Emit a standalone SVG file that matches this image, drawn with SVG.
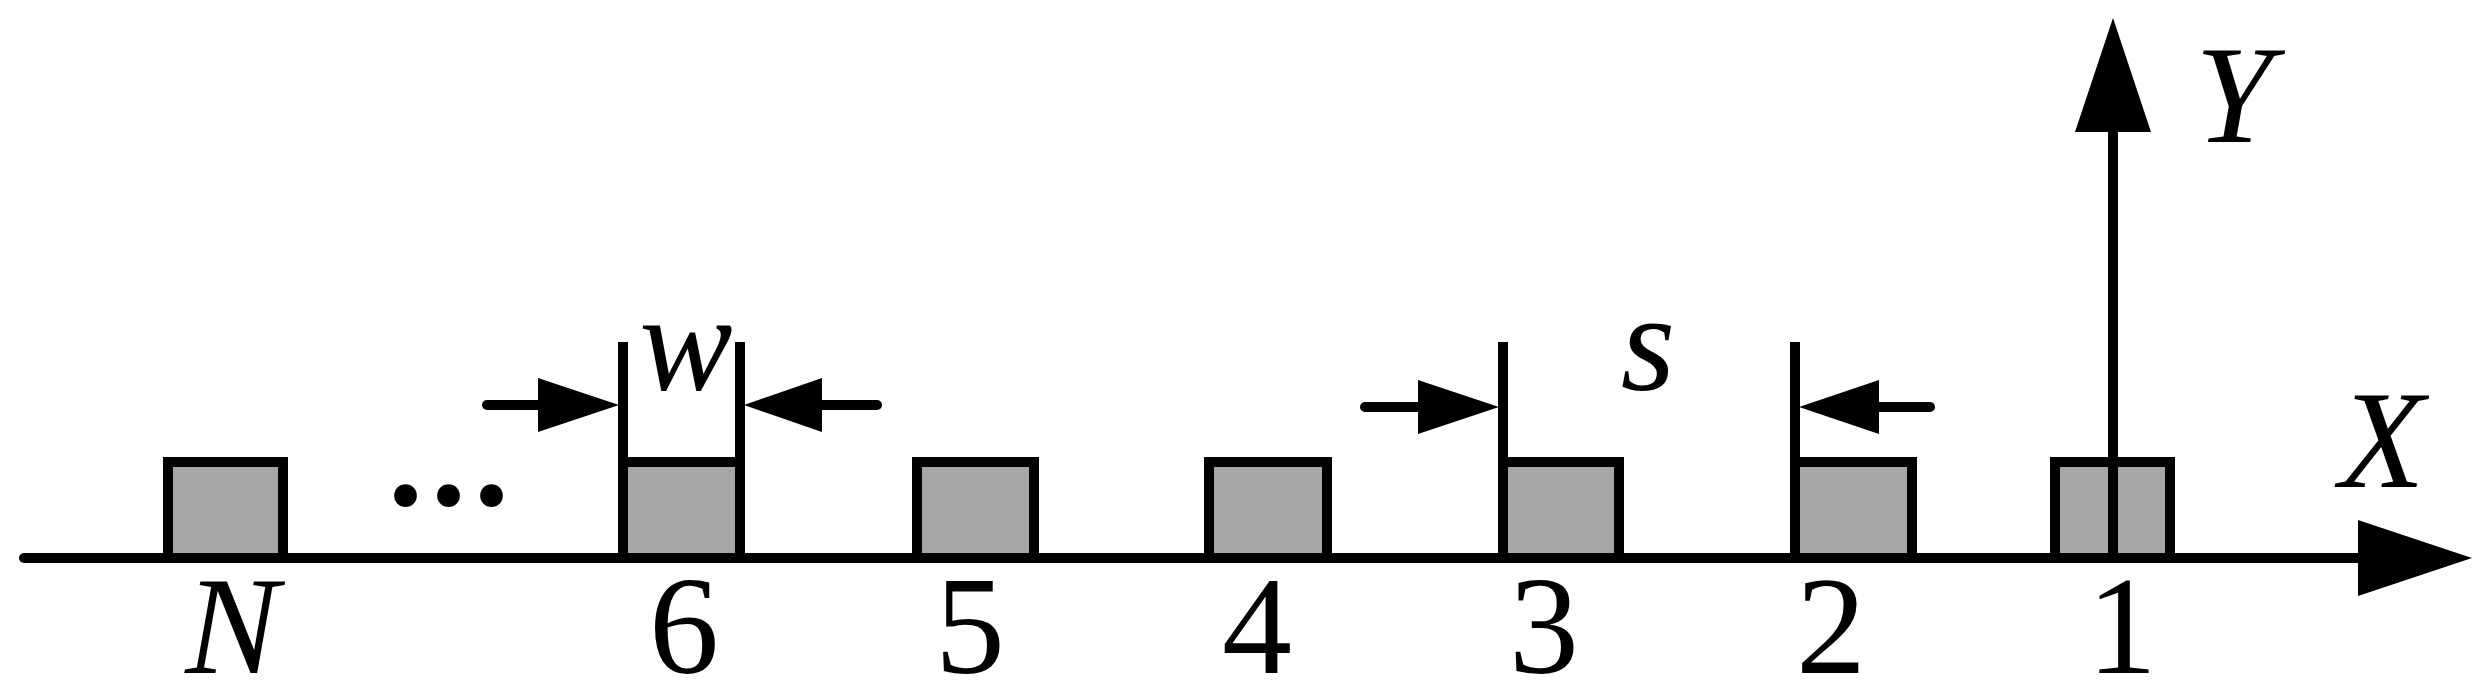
<svg xmlns="http://www.w3.org/2000/svg" width="2485" height="697" viewBox="0 0 2485 697">
<defs>
<polygon id="arrowR" points="-81,-27 0,0 -81,27" fill="#000"/>
</defs>
<rect width="2485" height="697" fill="#fff"/>
<g id="box-N"><rect x="168" y="462" width="115" height="96" fill="#a6a6a6" stroke="#000" stroke-width="10"/><text x="232" y="673" font-family="'Liberation Serif'" font-size="140" font-style="italic" text-anchor="middle">N</text></g>
<g id="dots"><text x="388" y="505" font-family="'Liberation Serif'" font-size="140" font-weight="bold" letter-spacing="8">...</text></g>
<g id="box-6"><rect x="623" y="462" width="117" height="96" fill="#a6a6a6" stroke="#000" stroke-width="10"/><text x="684" y="673" font-family="'Liberation Serif'" font-size="140" text-anchor="middle">6</text></g>
<g id="box-5"><rect x="917" y="462" width="117" height="96" fill="#a6a6a6" stroke="#000" stroke-width="10"/><text x="970" y="673" font-family="'Liberation Serif'" font-size="140" text-anchor="middle">5</text></g>
<g id="box-4"><rect x="1209" y="462" width="118" height="96" fill="#a6a6a6" stroke="#000" stroke-width="10"/><text x="1257" y="673" font-family="'Liberation Serif'" font-size="140" text-anchor="middle">4</text></g>
<g id="box-3"><rect x="1503" y="462" width="116" height="96" fill="#a6a6a6" stroke="#000" stroke-width="10"/><text x="1544" y="673" font-family="'Liberation Serif'" font-size="140" text-anchor="middle">3</text></g>
<g id="box-2"><rect x="1795" y="462" width="117" height="96" fill="#a6a6a6" stroke="#000" stroke-width="10"/><text x="1831" y="673" font-family="'Liberation Serif'" font-size="140" text-anchor="middle">2</text></g>
<g id="box-1"><rect x="2055" y="462" width="115" height="96" fill="#a6a6a6" stroke="#000" stroke-width="10"/><text x="2122" y="673" font-family="'Liberation Serif'" font-size="140" text-anchor="middle">1</text></g>
<g id="connectors" stroke="#000" stroke-width="10" fill="none">
<line x1="24" y1="558" x2="2370" y2="558" stroke-linecap="round"/>
<polygon points="2358,520 2472,558 2358,596" fill="#000" stroke="none"/>
<line x1="2113" y1="558" x2="2113" y2="125"/>
<polygon points="2075,132 2113,18 2151,132" fill="#000" stroke="none"/>
<line x1="623" y1="461" x2="623" y2="342"/>
<line x1="740" y1="461" x2="740" y2="342"/>
<line x1="1503" y1="461" x2="1503" y2="342"/>
<line x1="1795" y1="461" x2="1795" y2="342"/>
<line x1="487" y1="405" x2="545" y2="405" stroke-linecap="round"/>
<use href="#arrowR" x="619" y="405" stroke="none"/>
<line x1="877" y1="405" x2="815" y2="405" stroke-linecap="round"/>
<polygon points="822,378 744,405 822,432" fill="#000" stroke="none"/>
<line x1="1365" y1="407" x2="1424" y2="407" stroke-linecap="round"/>
<use href="#arrowR" x="1499" y="407" stroke="none"/>
<line x1="1930" y1="407" x2="1872" y2="407" stroke-linecap="round"/>
<polygon points="1879,380 1799,407 1879,434" fill="#000" stroke="none"/>
</g>
<g id="labels">
<text x="686" y="390" font-family="'Liberation Serif'" font-size="140" font-style="italic" text-anchor="middle">w</text>
<text x="1648" y="390" font-family="'Liberation Serif'" font-size="140" font-style="italic" text-anchor="middle">s</text>
<text x="2234" y="142" font-family="'Liberation Serif'" font-size="140" font-style="italic" text-anchor="middle">Y</text>
<text x="2382" y="487" font-family="'Liberation Serif'" font-size="140" font-style="italic" text-anchor="middle">X</text>
</g>
</svg>
